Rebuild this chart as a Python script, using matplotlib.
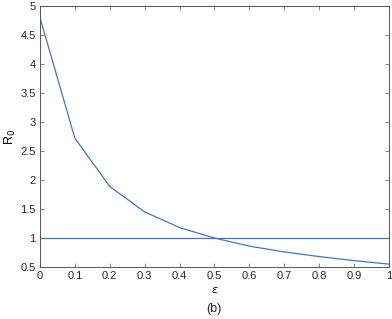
import numpy as np
import matplotlib.pyplot as plt

plt.rcParams['font.family'] = ['Liberation Sans', 'DejaVu Sans']

# epsilon vs R0
eps = [0.0, 0.1, 0.2, 0.3, 0.4, 0.5, 0.6, 0.7, 0.8, 0.9, 1.0]
r0 = [4.8, 2.72, 1.89, 1.45, 1.18, 1.0, 0.86, 0.76, 0.68, 0.61, 0.55]
threshold = 1.0

x_ticks = [0, 0.1, 0.2, 0.3, 0.4, 0.5, 0.6, 0.7, 0.8, 0.9, 1]
x_labels = ['0', '0.1', '0.2', '0.3', '0.4', '0.5', '0.6', '0.7', '0.8', '0.9', '1']
y_ticks = [0.5, 1, 1.5, 2, 2.5, 3, 3.5, 4, 4.5, 5]
y_labels = ['0.5', '1', '1.5', '2', '2.5', '3', '3.5', '4', '4.5', '5']

fig = plt.figure(figsize=(3.92, 3.19), dpi=100)
ax = fig.add_axes([0.102, 0.163, 0.890, 0.818])

line_color = '#4575C0'
ax.plot(eps, r0, color=line_color, linewidth=0.9)
ax.axhline(threshold, color=line_color, linewidth=0.9)

ax.set_xlim(0, 1)
ax.set_ylim(0.5, 5)
ax.set_xticks(x_ticks)
ax.set_xticklabels(x_labels)
ax.set_yticks(y_ticks)
ax.set_yticklabels(y_labels)

# matlab-ish box with inward ticks
for s in ax.spines.values():
    s.set_color('#555555')
    s.set_linewidth(0.7)
ax.tick_params(direction='in', top=True, right=True, length=3, width=0.5,
               labelsize=8, colors='#555555', labelcolor='#262626', pad=3)

ax.set_ylabel('R$_0$', fontsize=9, labelpad=2)
ax.set_xlabel(r'$\epsilon$', fontsize=8, labelpad=3)
fig.text(0.545, 0.022, '(b)', fontsize=9, ha='center', color='#262626')

plt.savefig('out.png', dpi=100)
